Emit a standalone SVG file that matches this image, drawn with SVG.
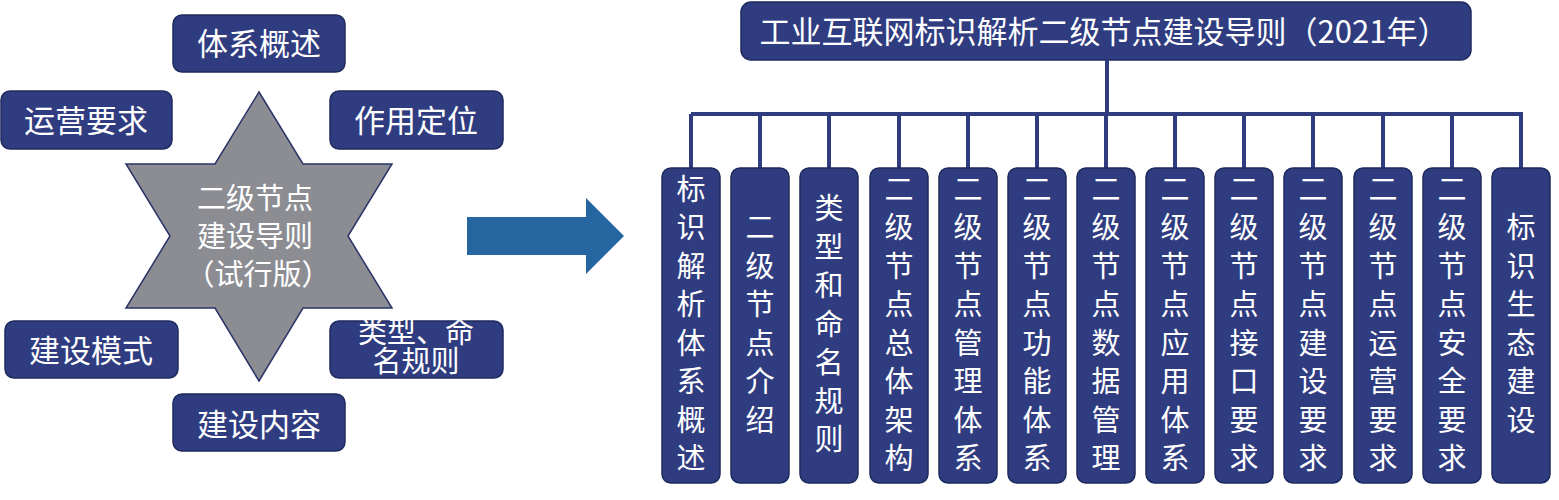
<svg xmlns="http://www.w3.org/2000/svg" width="1559" height="500" viewBox="0 0 1559 500">
<style>
.b{fill:#2f3c80;stroke:#1f2a5e;stroke-width:1.5}
.t{fill:#fff;font-family:"Noto Sans CJK SC","Liberation Sans",sans-serif;font-size:29px;text-anchor:middle}
.n{font-size:31px}
.c{fill:none;stroke:#2f3c80;stroke-width:4}
</style>
<rect width="1559" height="500" fill="#fff"/>
<g id="star">
<polygon points="259,92 303,164 392,164 348,236 392,308 303,308 259,381 215,308 126,308 170,236 126,164 215,164" fill="#8c8d93" stroke="#2a3468" stroke-width="1.5"/>
<text class="t" x="255" y="209" fill="#e8e8ea">二级节点</text>
<text class="t" x="255" y="247">建设导则</text>
<text class="t" x="258" y="285">（试行版）</text>
</g>
<g id="n1"><rect class="b" x="173" y="15" width="172" height="57" rx="9"/><text class="t n" x="259" y="55">体系概述</text></g>
<g id="n2"><rect class="b" x="1" y="91" width="171" height="58" rx="9"/><text class="t n" x="86" y="132">运营要求</text></g>
<g id="n3"><rect class="b" x="330" y="91" width="173" height="58" rx="9"/><text class="t n" x="416" y="132">作用定位</text></g>
<g id="n4"><rect class="b" x="5" y="321" width="173" height="57" rx="9"/><text class="t n" x="91" y="362">建设模式</text></g>
<g id="n5"><rect class="b" x="330" y="321" width="173" height="57" rx="9"/><text class="t" x="416" y="343" font-size="22">类型、命</text><text class="t" x="416" y="372" font-size="22">名规则</text></g>
<g id="n6"><rect class="b" x="173" y="394" width="172" height="57" rx="9"/><text class="t n" x="259" y="436">建设内容</text></g>
<g id="arrow"><polygon points="467,217 586,217 586,198 624,236 586,274 586,255 467,255" fill="#2565a0"/></g>
<g id="title"><rect class="b" x="741" y="2" width="730" height="58" rx="10"/><text class="t n" x="1104" y="43">工业互联网标识解析二级节点建设导则（2021年）</text></g>
<g id="connectors">
<path class="c" d="M1107,60V114M691,114H1523M691,114V168M760,114V168M829,114V168M899,114V168M968,114V168M1037,114V168M1106,114V168M1175,114V168M1244,114V168M1313,114V168M1383,114V168M1452,114V168M1521,114V168"/>
</g>
<g id="cols">
<g id="c1"><rect class="b" x="662" y="168" width="58" height="315" rx="9"/><text class="t" x="691" y="200">标</text><text class="t" x="691" y="238">识</text><text class="t" x="691" y="277">解</text><text class="t" x="691" y="315">析</text><text class="t" x="691" y="354">体</text><text class="t" x="691" y="392">系</text><text class="t" x="691" y="431">概</text><text class="t" x="691" y="469">述</text></g>
<g id="c2"><rect class="b" x="731" y="168" width="58" height="315" rx="9"/><text class="t" x="760" y="238">二</text><text class="t" x="760" y="277">级</text><text class="t" x="760" y="315">节</text><text class="t" x="760" y="354">点</text><text class="t" x="760" y="392">介</text><text class="t" x="760" y="431">绍</text></g>
<g id="c3"><rect class="b" x="800" y="168" width="58" height="315" rx="9"/><text class="t" x="829" y="219">类</text><text class="t" x="829" y="258">型</text><text class="t" x="829" y="296">和</text><text class="t" x="829" y="335">命</text><text class="t" x="829" y="373">名</text><text class="t" x="829" y="412">规</text><text class="t" x="829" y="450">则</text></g>
<g id="c4"><rect class="b" x="870" y="168" width="58" height="315" rx="9"/><text class="t" x="899" y="200">二</text><text class="t" x="899" y="238">级</text><text class="t" x="899" y="277">节</text><text class="t" x="899" y="315">点</text><text class="t" x="899" y="354">总</text><text class="t" x="899" y="392">体</text><text class="t" x="899" y="431">架</text><text class="t" x="899" y="469">构</text></g>
<g id="c5"><rect class="b" x="939" y="168" width="58" height="315" rx="9"/><text class="t" x="968" y="200">二</text><text class="t" x="968" y="238">级</text><text class="t" x="968" y="277">节</text><text class="t" x="968" y="315">点</text><text class="t" x="968" y="354">管</text><text class="t" x="968" y="392">理</text><text class="t" x="968" y="431">体</text><text class="t" x="968" y="469">系</text></g>
<g id="c6"><rect class="b" x="1008" y="168" width="58" height="315" rx="9"/><text class="t" x="1037" y="200">二</text><text class="t" x="1037" y="238">级</text><text class="t" x="1037" y="277">节</text><text class="t" x="1037" y="315">点</text><text class="t" x="1037" y="354">功</text><text class="t" x="1037" y="392">能</text><text class="t" x="1037" y="431">体</text><text class="t" x="1037" y="469">系</text></g>
<g id="c7"><rect class="b" x="1077" y="168" width="58" height="315" rx="9"/><text class="t" x="1106" y="200">二</text><text class="t" x="1106" y="238">级</text><text class="t" x="1106" y="277">节</text><text class="t" x="1106" y="315">点</text><text class="t" x="1106" y="354">数</text><text class="t" x="1106" y="392">据</text><text class="t" x="1106" y="431">管</text><text class="t" x="1106" y="469">理</text></g>
<g id="c8"><rect class="b" x="1146" y="168" width="58" height="315" rx="9"/><text class="t" x="1175" y="200">二</text><text class="t" x="1175" y="238">级</text><text class="t" x="1175" y="277">节</text><text class="t" x="1175" y="315">点</text><text class="t" x="1175" y="354">应</text><text class="t" x="1175" y="392">用</text><text class="t" x="1175" y="431">体</text><text class="t" x="1175" y="469">系</text></g>
<g id="c9"><rect class="b" x="1215" y="168" width="58" height="315" rx="9"/><text class="t" x="1244" y="200">二</text><text class="t" x="1244" y="238">级</text><text class="t" x="1244" y="277">节</text><text class="t" x="1244" y="315">点</text><text class="t" x="1244" y="354">接</text><text class="t" x="1244" y="392">口</text><text class="t" x="1244" y="431">要</text><text class="t" x="1244" y="469">求</text></g>
<g id="c10"><rect class="b" x="1284" y="168" width="58" height="315" rx="9"/><text class="t" x="1313" y="200">二</text><text class="t" x="1313" y="238">级</text><text class="t" x="1313" y="277">节</text><text class="t" x="1313" y="315">点</text><text class="t" x="1313" y="354">建</text><text class="t" x="1313" y="392">设</text><text class="t" x="1313" y="431">要</text><text class="t" x="1313" y="469">求</text></g>
<g id="c11"><rect class="b" x="1354" y="168" width="58" height="315" rx="9"/><text class="t" x="1383" y="200">二</text><text class="t" x="1383" y="238">级</text><text class="t" x="1383" y="277">节</text><text class="t" x="1383" y="315">点</text><text class="t" x="1383" y="354">运</text><text class="t" x="1383" y="392">营</text><text class="t" x="1383" y="431">要</text><text class="t" x="1383" y="469">求</text></g>
<g id="c12"><rect class="b" x="1423" y="168" width="58" height="315" rx="9"/><text class="t" x="1452" y="200">二</text><text class="t" x="1452" y="238">级</text><text class="t" x="1452" y="277">节</text><text class="t" x="1452" y="315">点</text><text class="t" x="1452" y="354">安</text><text class="t" x="1452" y="392">全</text><text class="t" x="1452" y="431">要</text><text class="t" x="1452" y="469">求</text></g>
<g id="c13"><rect class="b" x="1492" y="168" width="58" height="315" rx="9"/><text class="t" x="1521" y="238">标</text><text class="t" x="1521" y="277">识</text><text class="t" x="1521" y="315">生</text><text class="t" x="1521" y="354">态</text><text class="t" x="1521" y="392">建</text><text class="t" x="1521" y="431">设</text></g>
</g>
</svg>
